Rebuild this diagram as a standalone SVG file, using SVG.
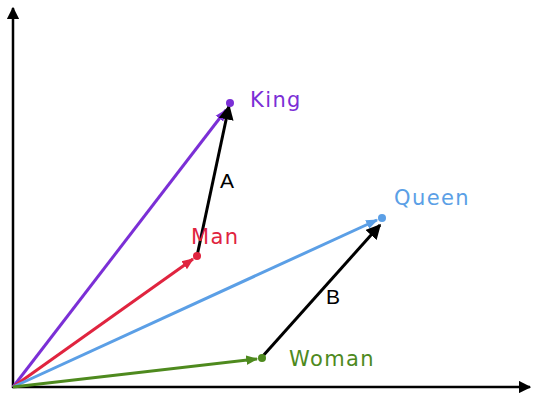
<svg xmlns="http://www.w3.org/2000/svg" width="534" height="401" viewBox="0 0 534 401">
<style>
.ax{stroke:#000;stroke-width:2.5;fill:none}
.v{stroke-width:3;fill:none}
.d{stroke:#000;stroke-width:3;fill:none}
.lbl{font-family:"DejaVu Sans","Liberation Sans",sans-serif;font-size:21px;letter-spacing:1.4px}
.ab{font-family:"Liberation Sans",sans-serif;font-size:21px;fill:#000}
</style>
<defs>
<marker id="mk" viewBox="0 0 10 10" refX="9" refY="5" markerWidth="5" markerHeight="5" orient="auto" markerUnits="strokeWidth"><path d="M0,0 L10,5 L0,10 z" fill="#000"/></marker>
<marker id="mp" viewBox="0 0 10 10" refX="9" refY="5" markerWidth="4" markerHeight="4" orient="auto" markerUnits="strokeWidth"><path d="M0,1 L10,5 L0,9 z" fill="#7b2fd6"/></marker>
<marker id="mr" viewBox="0 0 10 10" refX="9" refY="5" markerWidth="4" markerHeight="4" orient="auto" markerUnits="strokeWidth"><path d="M0,1 L10,5 L0,9 z" fill="#e0243f"/></marker>
<marker id="mb" viewBox="0 0 10 10" refX="9" refY="5" markerWidth="4" markerHeight="4" orient="auto" markerUnits="strokeWidth"><path d="M0,1 L10,5 L0,9 z" fill="#5b9fe6"/></marker>
<marker id="mg" viewBox="0 0 10 10" refX="9" refY="5" markerWidth="4" markerHeight="4" orient="auto" markerUnits="strokeWidth"><path d="M0,1 L10,5 L0,9 z" fill="#4e8a1e"/></marker>
</defs>
<g id="axes">
<line class="ax" x1="13" y1="388" x2="13" y2="8" marker-end="url(#mk)"/>
<line class="ax" x1="12" y1="387" x2="530" y2="387" marker-end="url(#mk)"/>
</g>
<g id="connectors">
<line class="v" stroke="#7b2fd6" x1="13" y1="387" x2="226" y2="110" marker-end="url(#mp)"/>
<line class="v" stroke="#e0243f" x1="13" y1="387" x2="193" y2="259" marker-end="url(#mr)"/>
<line class="v" stroke="#5b9fe6" x1="13" y1="387" x2="377" y2="220" marker-end="url(#mb)"/>
<line class="v" stroke="#4e8a1e" x1="13" y1="387" x2="257" y2="359" marker-end="url(#mg)"/>
<line class="d" x1="197" y1="256" x2="229" y2="106" marker-end="url(#mk)"/>
<line class="d" x1="262" y1="357" x2="380" y2="225" marker-end="url(#mk)"/>
<text class="ab" x="220" y="188">A</text>
<text class="ab" x="326" y="304">B</text>
</g>
<g id="king"><circle cx="230" cy="103" r="4" fill="#7b2fd6"/><text class="lbl" x="250" y="107" fill="#7b2fd6">King</text></g>
<g id="man"><circle cx="197" cy="256" r="4" fill="#e0243f"/><text class="lbl" x="191" y="244" fill="#e0243f">Man</text></g>
<g id="queen"><circle cx="382" cy="218" r="4" fill="#5b9fe6"/><text class="lbl" x="394" y="205" fill="#5b9fe6">Queen</text></g>
<g id="woman"><circle cx="262" cy="358" r="4" fill="#4e8a1e"/><text class="lbl" x="289" y="366" fill="#4e8a1e">Woman</text></g>
</svg>
